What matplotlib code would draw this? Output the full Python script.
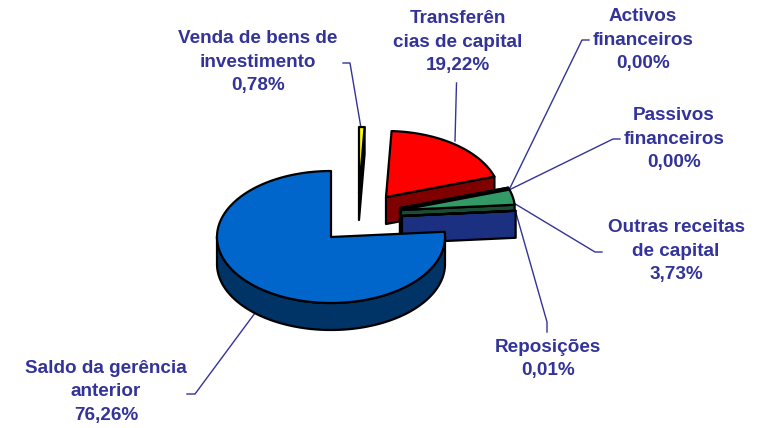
"""
Exploded 3D pie of capital revenue shares, drawn in pixel coordinates
"""

import numpy as np
import matplotlib
matplotlib.use('Agg')
import matplotlib.pyplot as plt
from matplotlib.patches import Polygon

# shares in %, clockwise from 12 o'clock
categories = ['Venda de bens de\ninvestimento', 'Transferên\ncias de capital',
              'Activos\nfinanceiros', 'Passivos\nfinanceiros',
              'Outras receitas\nde capital', 'Reposições',
              'Saldo da gerência\nanterior']
values = [0.78, 19.22, 0.0, 0.0, 3.73, 0.01, 76.26]
value_labels = ['0,78%', '19,22%', '0,00%', '0,00%', '3,73%', '0,01%', '76,26%']

top_colors = ['#FFFF00', '#FF0000', '#2F7F55', '#2F7F55', '#339966', '#1B3080', '#0066CC']
side_colors = ['#808000', '#800000', '#1A4D33', '#1A4D33', '#1A4D33', '#1B3080', '#003366']

# slice apex for each slice, in pixels
apexes = [(359, 193), (386, 197), (400, 208), (400, 209), (401, 210), (402, 216), (331, 237)]
label_pos = [(258, 62), (458, 42), (643, 40), (674, 139), (676, 251), (548, 359), (106, 392)]
leaders = [
    [(343, 63), (350, 63), (361, 128)],
    [(456.5, 83), (455, 141)],
    [(589, 40), (582, 40), (509, 190)],
    [(620, 139), (613, 139), (509, 190)],
    [(602, 252), (595, 252), (512, 202)],
    [(547, 332), (547, 322), (516, 213)],
    [(187, 394), (195, 394), (255, 313)],
]

RX, RY, DEPTH = 114, 66, 27
TEXT_COLOR = '#333399'
EDGE = dict(edgecolor='black', linewidth=1.6, joinstyle='round')


def rim(apex, angles):
    a = np.radians(angles)
    return np.column_stack([apex[0] + RX * np.cos(a), apex[1] - RY * np.sin(a)])


fig = plt.figure(figsize=(7.58, 4.28), dpi=100)
ax = fig.add_axes([0, 0, 1, 1])
ax.set_xlim(0, 758)
ax.set_ylim(428, 0)
ax.axis('off')

for pts in leaders:
    ax.plot(*zip(*pts), color=TEXT_COLOR, lw=1, zorder=1)

start = 90.0
z = 2
for val, apex, top, side in zip(values, apexes, top_colors, side_colors):
    end = start - val * 3.6
    angles = np.linspace(start, end, max(int(val * 3.6), 2))
    arc = rim(apex, angles)
    drop = np.array([0, DEPTH])

    # outer wall, only the part facing the viewer
    front = angles[np.sin(np.radians(angles)) <= 0.02]
    if len(front) > 1:
        wall = rim(apex, front)
        ax.add_patch(Polygon(np.vstack([wall, (wall + drop)[::-1]]), facecolor=side, zorder=z, **EDGE))

    # cut face at the clockwise end
    if np.cos(np.radians(end)) > 0:
        p = arc[-1]
        ax.add_patch(Polygon([apex, p, p + drop, np.array(apex) + drop], facecolor=side, zorder=z, **EDGE))

    ax.add_patch(Polygon(np.vstack([[apex], arc]), facecolor=top, zorder=z + 1, **EDGE))
    start = end
    z += 2

for cat, vlab, (x, y) in zip(categories, value_labels, label_pos):
    ax.text(x, y, cat + '\n' + vlab, ha='center', va='center', color=TEXT_COLOR,
            family='Liberation Sans', weight='bold', fontsize=13.6, linespacing=1.52)

fig.savefig('out.png', dpi=100)
